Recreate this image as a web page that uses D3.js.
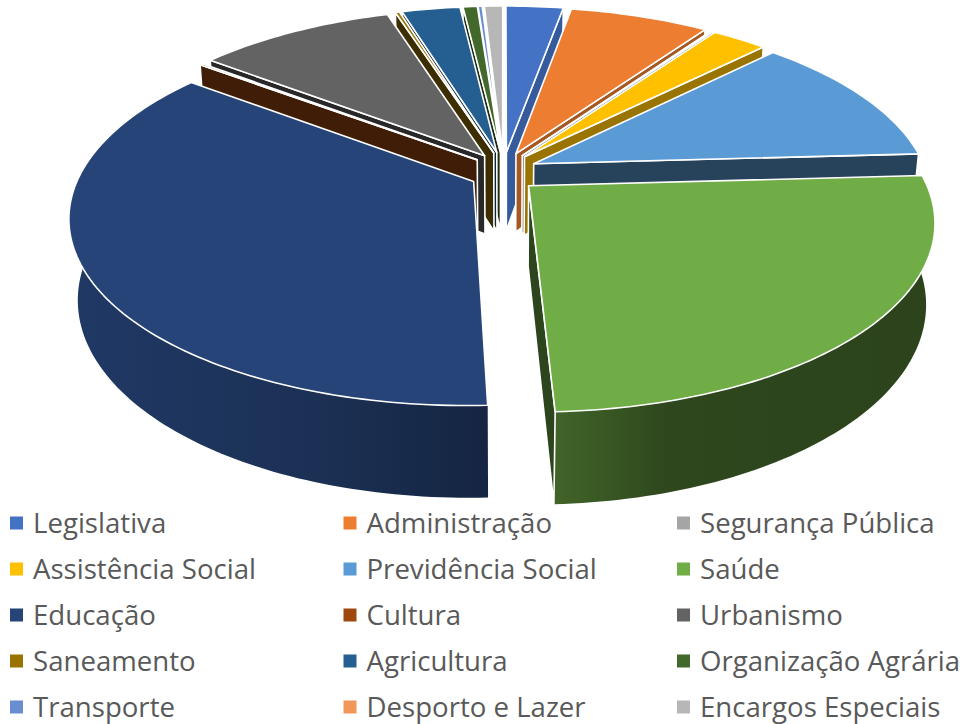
<!DOCTYPE html>
<html>
<head>
<meta charset="utf-8">
<script src="https://cdn.jsdelivr.net/npm/d3@7"></script>
<style>
  html, body { margin: 0; padding: 0; background: #fff; }
  svg { display: block; }
</style>
</head>
<body>
<div id="chart"></div>
<script>
// categories in legend order, clockwise from the top of the pie
const categories = ["Legislativa", "Administração", "Segurança Pública", "Assistência Social",
  "Previdência Social", "Saúde", "Educação", "Cultura", "Urbanismo", "Saneamento", "Agricultura",
  "Organização Agrária", "Transporte", "Desporto e Lazer", "Encargos Especiais"];
// share of each slice in %
const shares = [2.8, 6.8, 0.1, 2.7, 11.7, 25.22, 35.96, 0.15, 9.67, 0.2, 2.85, 0.7, 0.2, 0.05, 0.9];
const colors = ["#4472c4", "#ed7d31", "#a5a5a5", "#ffc000", "#5b9bd5", "#70ad47", "#264478", "#9e480e",
  "#636363", "#997300", "#255e91", "#43682b", "#698ed0", "#f1975a", "#b7b7b7"];

const width = 964, height = 724;

const svg = d3.select("#chart").append("svg")
  .attr("width", width)
  .attr("height", height)
  .attr("font-family", "'Open Sans', sans-serif");
const defs = svg.append("defs");

// camera, fitted by hand to the reference
const cx = 503.5, cy = 172, ax = 393, ay = 179.4, persp = 0.182, drop = 81, dropPersp = 0.02;
const explodeX = 0.085, explodeY = 0.113;

// v grows towards the viewer, z is depth below the top face
const project = (u, v, z) => {
  const w = 1 - persp * v + dropPersp * z;
  return [cx + ax * u / w, cy + (ay * v + drop * z) / w];
};

const pie = d3.pie().sort(null).value(d => d).startAngle(0).endAngle(2 * Math.PI);
const arcs = pie(shares).map((d, i) => {
  const mid = (d.startAngle + d.endAngle) / 2;
  return { i, start: d.startAngle, end: d.endAngle, mid,
    ox: explodeX * Math.sin(mid), oy: -explodeY * Math.cos(mid) };
});

const onRim = (s, a, z) => project(s.ox + Math.sin(a), s.oy - Math.cos(a), z);
const apex = (s, z) => project(s.ox, s.oy, z);
const rimPoints = (s, a0, a1, z) => {
  const n = Math.max(2, Math.ceil((a1 - a0) / 0.02));
  return d3.range(n + 1).map(k => onRim(s, a0 + (a1 - a0) * k / n, z));
};
const line = d3.line();

// how dark a radial wall gets, by the direction of its edge in degrees
const wallShade = d3.scaleLinear()
  .domain([10, 35, 45, 90, 180, 360])
  .range([0.8, 0.7, 0.6, 0.42, 0.4, 0.4])
  .clamp(true);
const darker = (c, f) => {
  const r = d3.rgb(c);
  return d3.rgb(r.r * f, r.g * f, r.b * f).formatHex();
};

const deg = 180 / Math.PI;
const faceBack = 290 / deg;

// shading of the rim wall, left to right across the slice
const rimStops = {
  5: [[0, 0.58], [0.3, 0.41], [1, 0.39]],
  6: [[0, 0.84], [0.6, 0.7], [1, 0.55]]
};

const g = svg.append("g")
  .attr("stroke", "#fff")
  .attr("stroke-width", 1.6)
  .attr("stroke-linejoin", "round");

// painter's order, far slices first
const order = arcs.slice().sort((a, b) => apex(a, 0)[1] - apex(b, 0)[1]);

order.forEach(s => {
  const c = colors[s.i];
  const slice = g.append("g");

  // rim wall, only for the big front slices, no outline on the white side
  const stops = rimStops[s.i];
  if (stops) {
    const a0 = s.start, a1 = Math.min(s.end, faceBack);
    const id = "side" + s.i;
    const xs = rimPoints(s, a0, a1, 0).map(p => p[0]);
    const grad = defs.append("linearGradient").attr("id", id)
      .attr("gradientUnits", "userSpaceOnUse")
      .attr("x1", d3.min(xs)).attr("x2", d3.max(xs))
      .attr("y1", 0).attr("y2", 0);
    stops.forEach(st => {
      grad.append("stop").attr("offset", st[0]).attr("stop-color", darker(c, st[1]));
    });
    const pts = rimPoints(s, a0, a1, 0).concat(rimPoints(s, a0, a1, 1).reverse());
    slice.append("path").attr("d", line(pts) + "Z").attr("fill", `url(#${id})`).attr("stroke", "none");
  }

  // inner wall facing the gap, a left slice starting before 180 deg hides its own
  const wallAngle = s.mid < Math.PI ? s.end : s.start;
  if (s.mid < Math.PI || s.start > Math.PI) {
    const wall = [apex(s, 0), onRim(s, wallAngle, 0), onRim(s, wallAngle, 1), apex(s, 1)];
    slice.append("path")
      .attr("d", line(wall) + "Z")
      .attr("fill", darker(c, wallShade(wallAngle * deg)));
  }

  // top face
  const top = [apex(s, 0)].concat(rimPoints(s, s.start, s.end, 0));
  slice.append("path").attr("d", line(top) + "Z").attr("fill", c);
});

// legend
const legendX = d3.scalePoint().domain([0, 1, 2]).range([10, 677]);
const legendY = d3.scalePoint().domain([0, 1, 2, 3, 4]).range([523, 707]);
const items = svg.append("g").selectAll("g")
  .data(categories)
  .join("g")
  .attr("transform", (d, i) => `translate(${legendX(i % 3)},${legendY(Math.floor(i / 3))})`);
items.append("rect")
  .attr("y", -6.5)
  .attr("width", 13)
  .attr("height", 13)
  .attr("fill", (d, i) => colors[i]);
items.append("text")
  .attr("x", 23)
  .attr("y", 9.5)
  .attr("font-size", 27.6)
  .attr("fill", "#595959")
  .text(d => d);
</script>
</body>
</html>
